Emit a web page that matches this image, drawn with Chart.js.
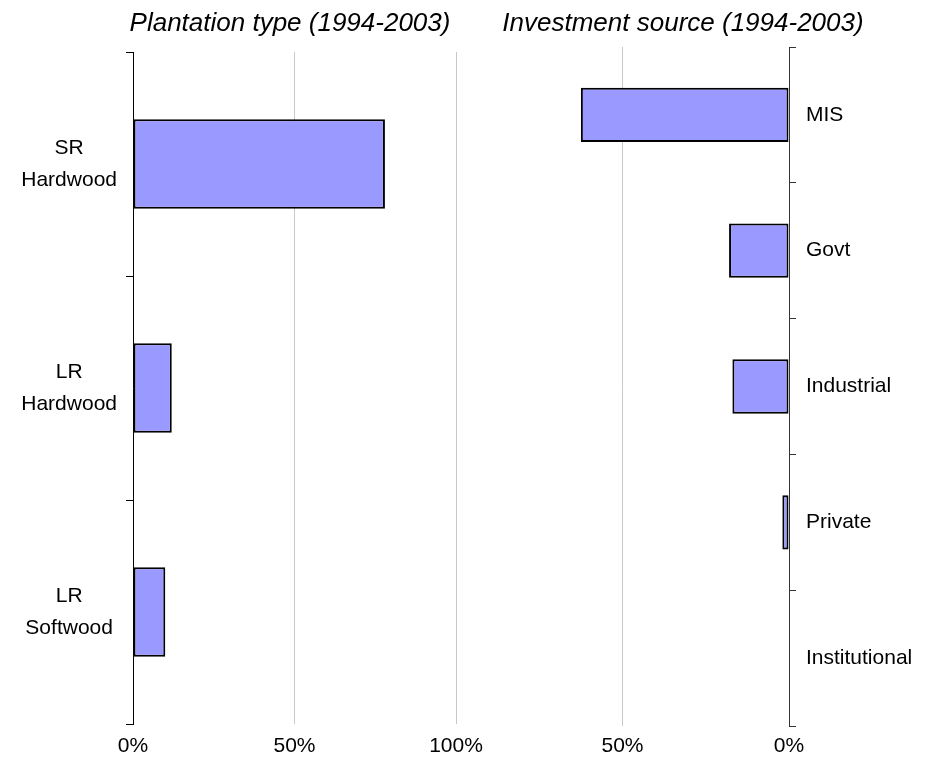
<!DOCTYPE html>
<html>
<head>
<meta charset="utf-8">
<script src="https://cdn.jsdelivr.net/npm/chart.js@4.4.1/dist/chart.umd.min.js"></script>
<style>
  body { margin: 0; background: #fff; }
  #wrap { position: relative; width: 932px; height: 770px; }
  canvas { position: absolute; top: 0; }
  #plantChart { left: 0; }
  #investChart { left: 420px; }
</style>
</head>
<body>
<div id="wrap">
  <canvas id="plantChart" width="500" height="770"></canvas>
  <canvas id="investChart" width="512" height="770"></canvas>
</div>
<script>
const plantationTypes = [['SR', 'Hardwood'], ['LR', 'Hardwood'], ['LR', 'Softwood']];
const plantationShare = [78, 12, 10];

const investmentSources = ['MIS', 'Govt', 'Industrial', 'Private', 'Institutional'];
const investmentShare = [62.5, 18, 17, 2, 0];

const percentTicks = [0, 50, 100];

const fontFamily = '"Liberation Sans", Arial, sans-serif';
Chart.defaults.font.family = fontFamily;
Chart.defaults.color = '#000';

const barFill = '#9999ff';
const gridGrey = '#c8c8c8';

// italic panel title, placed by hand so it can sit off-centre like the original
const panelTitle = {
    id: 'panelTitle',
    afterDraw(chart, args, opts) {
        const ctx = chart.ctx;
        ctx.save();
        ctx.font = 'italic 26px ' + fontFamily;
        ctx.fillStyle = '#000';
        ctx.textAlign = 'center';
        ctx.textBaseline = 'alphabetic';
        ctx.fillText(opts.text, opts.x, opts.y);
        ctx.restore();
    }
};

function xScale(reverse, height, pad, hideGrid, hideLabel) {
    return {
        type: 'linear',
        min: 0,
        max: 100,
        reverse: reverse,
        afterBuildTicks: s => { s.ticks = percentTicks.map(v => ({ value: v })); },
        afterFit: s => { s.height = height; },
        border: { display: false },
        grid: {
            drawTicks: false,
            color: ctx => hideGrid.includes(ctx.tick.value) ? 'rgba(0,0,0,0)' : gridGrey
        },
        ticks: {
            padding: pad,
            font: { size: 21 },
            callback: v => hideLabel.includes(v) ? '' : v + '%'
        }
    };
}

function barSet(values) {
    return {
        data: values,
        backgroundColor: barFill,
        borderColor: '#000',
        borderWidth: 2,
        borderSkipped: false,
        barPercentage: 0.4,
        categoryPercentage: 1
    };
}

// left: plantation type
new Chart(document.getElementById('plantChart').getContext('2d'), {
    type: 'bar',
    data: { labels: plantationTypes, datasets: [barSet(plantationShare)] },
    plugins: [panelTitle],
    options: {
        indexAxis: 'y',
        responsive: false,
        animation: false,
        devicePixelRatio: 1,
        layout: { padding: { left: 10, right: 44, top: 52, bottom: 0 } },
        plugins: {
            legend: { display: false },
            tooltip: { enabled: false },
            panelTitle: { text: 'Plantation type (1994-2003)', x: 290, y: 31 }
        },
        scales: {
            x: xScale(false, 46, 10, [0], []),
            y: {
                afterFit: s => { s.width = 123; },
                border: { color: '#000', width: 1 },
                grid: { drawOnChartArea: false, drawTicks: true, tickLength: 7, color: '#000', offset: true },
                ticks: { crossAlign: 'center', padding: 9, font: { size: 21, lineHeight: 1.5 } }
            }
        }
    }
});

// right: investment source, axis runs right to left
new Chart(document.getElementById('investChart').getContext('2d'), {
    type: 'bar',
    data: { labels: investmentSources, datasets: [barSet(investmentShare)] },
    plugins: [panelTitle],
    options: {
        indexAxis: 'y',
        responsive: false,
        animation: false,
        devicePixelRatio: 1,
        layout: { padding: { left: 36, right: 0, top: 47, bottom: 0 } },
        plugins: {
            legend: { display: false },
            tooltip: { enabled: false },
            panelTitle: { text: 'Investment source (1994-2003)', x: 263, y: 31 }
        },
        scales: {
            x: xScale(true, 44, 8, [0, 100], [100]),
            y: {
                position: 'right',
                afterFit: s => { s.width = 143; },
                border: { color: '#333', width: 1 },
                grid: { drawOnChartArea: false, drawTicks: true, tickLength: 7, color: '#333', offset: true },
                ticks: { padding: 10, font: { size: 21 } }
            }
        }
    }
});
</script>
</body>
</html>
